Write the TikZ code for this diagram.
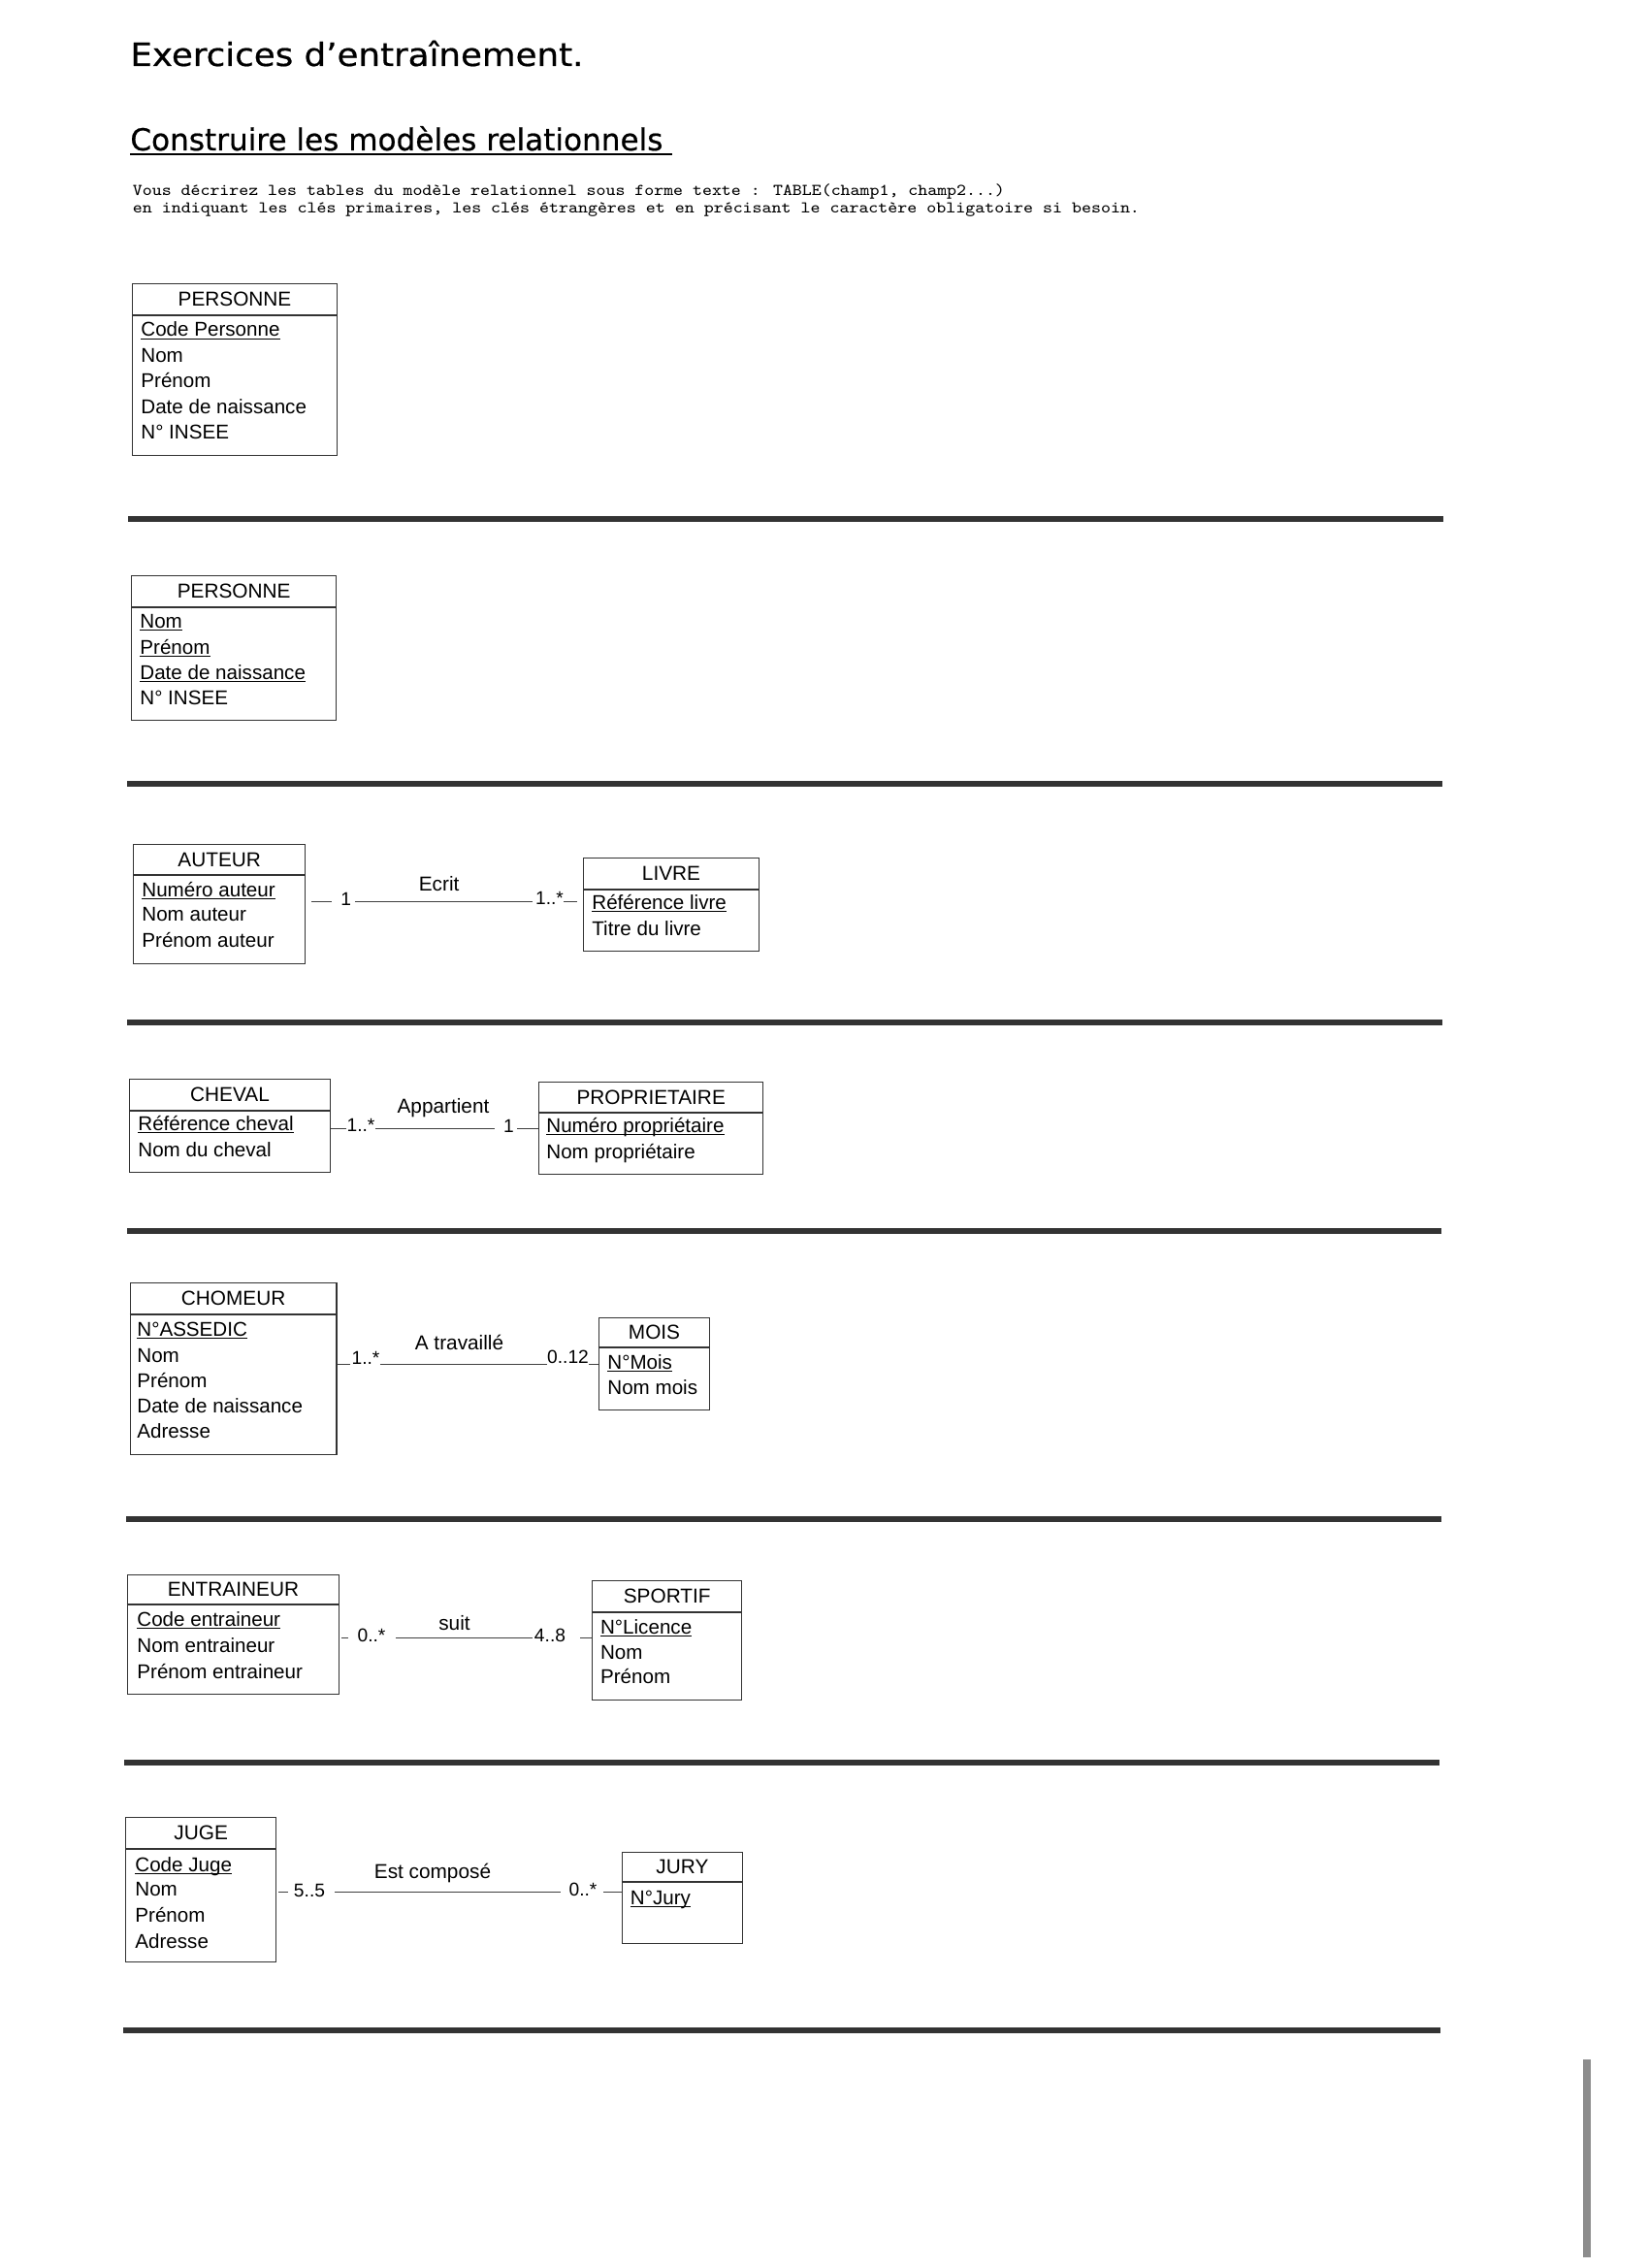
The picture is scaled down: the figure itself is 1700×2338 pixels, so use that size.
\documentclass[tikz,border=0pt]{standalone}
\usepackage{fontspec}
\usepackage{graphicx}
\setmainfont{Liberation Sans}
\newfontfamily\titlefont[FakeBold=0.6]{DejaVu Sans}
\newcommand\ulk[1]{\setbox0\hbox{#1}\rlap{\rule[-1.7pt]{\wd0}{0.6pt}}\box0}
\begin{document}
\begin{tikzpicture}[x=0.5pt,y=-0.5pt,
  box/.style={draw=black!80, line width=0.7pt, anchor=north west, inner sep=0pt},
  divline/.style={draw=black!80, line width=0.7pt},
  hdr/.style={anchor=base, inner sep=0pt, font=\fontsize{10.4}{12}\selectfont},
  attr/.style={anchor=base west, inner sep=0pt, font=\fontsize{10.3}{12}\selectfont},
  assoc/.style={anchor=base, inner sep=0pt, font=\fontsize{10.4}{12}\selectfont},
  mult/.style={anchor=base, inner sep=0pt, font=\fontsize{9.6}{11}\selectfont},
  conn/.style={draw=black!75, line width=0.5pt},
  sepline/.style={draw=black!80, line width=2.8pt}]
\useasboundingbox (0,0) rectangle (1700,2338);
\fill[white] (0,0) rectangle (1700,2338);

% titles
\node[anchor=base west, inner sep=0pt] (title) at (134,68) {\resizebox{233.5pt}{\height}{\titlefont\fontsize{16.5}{19}\selectfont Exercices d’entraînement.}};
\node[anchor=base west, inner sep=0pt] (heading) at (134,155) {\resizebox{274.5pt}{\height}{\titlefont\fontsize{15.6}{18}\selectfont Construire les modèles relationnels}};
\draw[line width=1pt] ([yshift=-2.25pt]heading.base west) -- ++(279.5pt,0);
\node[anchor=base west, inner sep=0pt] (intro1) at (136.5,202) {\resizebox{449.5pt}{\height}{\ttfamily\fontsize{8.5}{10}\selectfont Vous décrirez les tables du modèle relationnel sous forme texte : TABLE(champ1, champ2...)}};
\node[anchor=base west, inner sep=0pt] (intro2) at (136.5,219.5) {\resizebox{519pt}{\height}{\ttfamily\fontsize{8.5}{10}\selectfont en indiquant les clés primaires, les clés étrangères et en précisant le caractère obligatoire si besoin.}};

% separators
\draw[sepline] (132,535) -- (1488,535);
\draw[sepline] (131,808) -- (1487,808);
\draw[sepline] (131,1054) -- (1487,1054);
\draw[sepline] (131,1269) -- (1486,1269);
\draw[sepline] (130,1566) -- (1486,1566);
\draw[sepline] (128,1817) -- (1484,1817);
\draw[sepline] (127,2093) -- (1485,2093);

% 1 PERSONNE
\node[box, minimum width=105.3pt, minimum height=88.5pt] (pers1) at (136,292) {};
\draw[divline] (pers1.west |- 0,325) -- (pers1.east |- 0,325);
\node[hdr] (pers1h) at (pers1.north |- 0,315.5) {PERSONNE};
\node[attr] (pers1a) at (145,347) {\ulk{Code Personne}};
\node[attr] (pers1b) at (145,373.7) {Nom};
\node[attr] (pers1c) at (145,400) {Prénom};
\node[attr] (pers1d) at (145,426) {Date de naissance};
\node[attr] (pers1e) at (145,452.7) {N° INSEE};

% 2 PERSONNE
\node[box, minimum width=105.5pt, minimum height=74.5pt] (pers2) at (135,593) {};
\draw[divline] (pers2.west |- 0,626) -- (pers2.east |- 0,626);
\node[hdr] (pers2h) at (pers2.north |- 0,616.5) {PERSONNE};
\node[attr] (pers2a) at (144,647) {\ulk{Nom}};
\node[attr] (pers2b) at (144,674) {\ulk{Prénom}};
\node[attr] (pers2c) at (144,700) {\ulk{Date de naissance}};
\node[attr] (pers2d) at (144,726) {N° INSEE};

% 3 AUTEUR - LIVRE
\node[box, minimum width=88.5pt, minimum height=61.5pt] (auteur) at (137,870) {};
\draw[divline] (auteur.west |- 0,902) -- (auteur.east |- 0,902);
\node[hdr] (auteurh) at (auteur.north |- 0,893) {AUTEUR};
\node[attr] (auteura) at (146,924) {\ulk{Numéro auteur}};
\node[attr] (auteurb) at (146,949) {Nom auteur};
\node[attr] (auteurc) at (146,976) {Prénom auteur};

\node[box, minimum width=90.3pt, minimum height=48pt] (livre) at (601,884) {};
\draw[divline] (livre.west |- 0,917) -- (livre.east |- 0,917);
\node[hdr] (livreh) at (livre.north |- 0,907.5) {LIVRE};
\node[attr] (livrea) at (610,937) {\ulk{Référence livre}};
\node[attr] (livreb) at (610,964) {Titre du livre};

\coordinate (l1) at (0,929);
\node[assoc] (ecrit) at (452.6,918) {Ecrit};
\node[mult] (m11) at (356.6,933) {1};
\node[mult] (m12) at (566.5,932) {1..*};
\draw[conn, shorten <=3pt, shorten >=4.5pt] (auteur.east |- l1) -- (m11.west |- l1);
\draw[conn, shorten <=1.75pt, shorten >=1.2pt] (m11.east |- l1) -- (m12.west |- l1);
\draw[conn, shorten >=3pt] (m12.east |- l1) -- (livre.west |- l1);

% 4 CHEVAL - PROPRIETAIRE
\node[box, minimum width=103.3pt, minimum height=48pt] (cheval) at (133,1112) {};
\draw[divline] (cheval.west |- 0,1145) -- (cheval.east |- 0,1145);
\node[hdr] (chevalh) at (cheval.north |- 0,1135.5) {CHEVAL};
\node[attr] (chevala) at (142,1165) {\ulk{Référence cheval}};
\node[attr] (chevalb) at (142,1192) {Nom du cheval};

\node[box, minimum width=115.5pt, minimum height=47.5pt] (proprio) at (555,1115) {};
\draw[divline] (proprio.west |- 0,1147) -- (proprio.east |- 0,1147);
\node[hdr] (proprioh) at (proprio.north |- 0,1138) {PROPRIETAIRE};
\node[attr] (proprioa) at (563,1167) {\ulk{Numéro propriétaire}};
\node[attr] (propriob) at (563,1194) {Nom propriétaire};

\coordinate (l2) at (0,1163);
\node[assoc] (appartient) at (457,1147.7) {Appartient};
\node[mult] (m21) at (372,1166) {1..*};
\node[mult] (m22) at (524.5,1167) {1};
\draw[conn] (cheval.east |- l2) -- (m21.west |- l2);
\draw[conn, shorten >=4.25pt] (m21.east |- l2) -- (m22.west |- l2);
\draw[conn, shorten <=1.5pt] (m22.east |- l2) -- (proprio.west |- l2);

% 5 CHOMEUR - MOIS
\node[box, minimum width=106.45pt, minimum height=88.5pt] (chomeur) at (133.5,1322) {};
\draw[divline] (chomeur.west |- 0,1355) -- (chomeur.east |- 0,1355);
\node[hdr] (chomeurh) at (chomeur.north |- 0,1345.5) {CHOMEUR};
\node[attr] (chomeura) at (141,1377) {\ulk{N°ASSEDIC}};
\node[attr] (chomeurb) at (141,1404) {Nom};
\node[attr] (chomeurc) at (141,1430) {Prénom};
\node[attr] (chomeurd) at (141,1456) {Date de naissance};
\node[attr] (chomeure) at (141,1482) {Adresse};

\node[box, minimum width=57.2pt, minimum height=47.5pt] (mois) at (616.6,1358) {};
\draw[divline] (mois.west |- 0,1389) -- (mois.east |- 0,1389);
\node[hdr] (moish) at (mois.north |- 0,1380.5) {MOIS};
\node[attr] (moisa) at (626,1411) {\ulk{N°Mois}};
\node[attr] (moisb) at (626,1437) {Nom mois};

\coordinate (l3) at (0,1406);
\node[assoc] (travaille) at (473.5,1391.7) {A travaillé};
\node[mult] (m31) at (377,1406) {1..*};
\node[mult] (m32) at (585.5,1405) {0..12};
\draw[conn, shorten >=0.5pt] (chomeur.east |- l3) -- (m31.west |- l3);
\draw[conn] (m31.east |- l3) -- (m32.west |- l3);
\draw[conn] (m32.east |- l3) -- (mois.west |- l3);

% 6 ENTRAINEUR - SPORTIF
\node[box, minimum width=109.25pt, minimum height=61.5pt] (entraineur) at (130.5,1623) {};
\draw[divline] (entraineur.west |- 0,1654) -- (entraineur.east |- 0,1654);
\node[hdr] (entraineurh) at (entraineur.north |- 0,1645.5) {ENTRAINEUR};
\node[attr] (entraineura) at (141,1676) {\ulk{Code entraineur}};
\node[attr] (entraineurb) at (141,1703) {Nom entraineur};
\node[attr] (entraineurc) at (141,1730) {Prénom entraineur};

\node[box, minimum width=77pt, minimum height=61.5pt] (sportif) at (610,1629) {};
\draw[divline] (sportif.west |- 0,1662) -- (sportif.east |- 0,1662);
\node[hdr] (sportifh) at (sportif.north |- 0,1652.5) {SPORTIF};
\node[attr] (sportifa) at (618.7,1684) {\ulk{N°Licence}};
\node[attr] (sportifb) at (618.7,1710) {Nom};
\node[attr] (sportifc) at (618.7,1735) {Prénom};

\coordinate (l4) at (0,1688);
\node[assoc] (suit) at (468.5,1680) {suit};
\node[mult] (m41) at (383,1692) {0..*};
\node[mult] (m42) at (567,1692) {4..8};
\draw[conn, shorten <=0.75pt, shorten >=4.75pt] (entraineur.east |- l4) -- (m41.west |- l4);
\draw[conn, shorten <=5pt, shorten >=1pt] (m41.east |- l4) -- (m42.west |- l4);
\draw[conn, shorten <=7.5pt] (m42.east |- l4) -- (sportif.west |- l4);

% 7 JUGE - JURY
\node[box, minimum width=77.5pt, minimum height=74.5pt] (juge) at (129,1873) {};
\draw[divline] (juge.west |- 0,1906) -- (juge.east |- 0,1906);
\node[hdr] (jugeh) at (juge.north |- 0,1896.5) {JUGE};
\node[attr] (jugea) at (139,1929) {\ulk{Code Juge}};
\node[attr] (jugeb) at (139,1954) {Nom};
\node[attr] (jugec) at (139,1981) {Prénom};
\node[attr] (juged) at (139,2008) {Adresse};

\node[box, minimum width=62.1pt, minimum height=47pt] (jury) at (640.6,1909) {};
\draw[divline] (jury.west |- 0,1940) -- (jury.east |- 0,1940);
\node[hdr] (juryh) at (jury.north |- 0,1931.5) {JURY};
\node[attr] (jurya) at (649.5,1963) {\ulk{N°Jury}};

\coordinate (l5) at (0,1950);
\node[assoc] (compose) at (446,1936) {Est composé};
\node[mult] (m51) at (319,1955) {5..5};
\node[mult] (m52) at (601,1954) {0..*};
\draw[conn, shorten <=1pt, shorten >=3pt] (juge.east |- l5) -- (m51.west |- l5);
\draw[conn, shorten <=5pt, shorten >=4.2pt] (m51.east |- l5) -- (m52.west |- l5);
\draw[conn, shorten <=3.2pt] (m52.east |- l5) -- (jury.west |- l5);

% scan mark at bottom right
\fill[black!45] (1632,2123) rectangle (1640,2327);
\end{tikzpicture}
\end{document}
